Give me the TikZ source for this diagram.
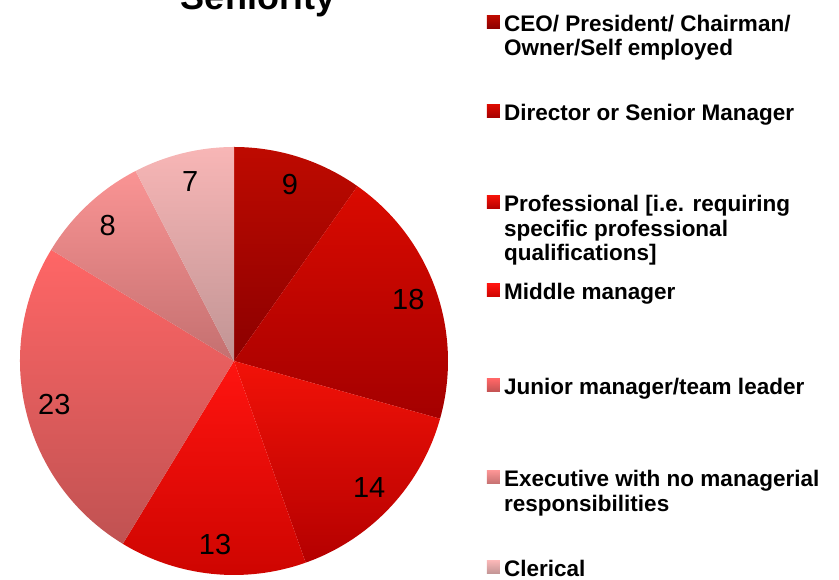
\documentclass[tikz,border=0pt]{standalone}
\usepackage{fontspec}
\setmainfont{Liberation Sans}
\usepackage{xcolor}
\usetikzlibrary{positioning}

\definecolor{ceoTop}{HTML}{BE0A00}
\definecolor{ceoBot}{HTML}{8C0000}
\definecolor{dirTop}{HTML}{DA0A00}
\definecolor{dirBot}{HTML}{A40000}
\definecolor{proTop}{HTML}{F21208}
\definecolor{proBot}{HTML}{B40000}
\definecolor{midTop}{HTML}{FF1410}
\definecolor{midBot}{HTML}{CC0400}
\definecolor{junTop}{HTML}{FF6666}
\definecolor{junBot}{HTML}{C05252}
\definecolor{exeTop}{HTML}{FA9494}
\definecolor{exeBot}{HTML}{C47070}
\definecolor{cleTop}{HTML}{F8B6B6}
\definecolor{cleBot}{HTML}{C09494}

\begin{document}
\begin{tikzpicture}[x=1pt, y=1pt]
        \tikzstyle{count} = [inner sep=0pt, font=\fontsize{29}{29}\selectfont]
        \tikzstyle{key} = [rectangle, minimum size=13pt, inner sep=0pt]
        \tikzstyle{entry} = [anchor=base west, align=left, inner sep=0pt,
            font=\fontsize{22.5}{24.5}\selectfont\bfseries]

        \useasboundingbox (0,0) rectangle (839,580);
        \node [anchor=base, font=\fontsize{36}{36}\selectfont\bfseries] (title) at (258,570) {Seniority};

        % pie, clockwise from the top
        \coordinate (c) at (234,219);
        \foreach \from/\to/\tc/\bc/\val/\nm in {90/54.783/ceoTop/ceoBot/9/nceo,
            54.783/-15.652/dirTop/dirBot/18/ndir,
            -15.652/-70.435/proTop/proBot/14/npro,
            -70.435/-121.304/midTop/midBot/13/nmid,
            -121.304/-211.304/junTop/junBot/23/njun,
            -211.304/-242.609/exeTop/exeBot/8/nexe,
            -242.609/-270/cleTop/cleBot/7/ncle}
        {
            \shade [top color=\tc, bottom color=\bc] (c) -- ++(\from:214)
                arc [start angle=\from, end angle=\to, radius=214] -- cycle;
            \path (c) ++({(\from+\to)/2}:185) node [count] (\nm) {\val};
        }

        % legend (base = last line)
        \node [entry] (ceo) at (504,524) {CEO/ President/ Chairman/\\Owner/Self employed};
        \node [entry] (dir) at (504,459) {Director or Senior Manager};
        \node [entry] (pro) at (504,319) {Professional [i.e. requiring\\specific professional\\qualifications]};
        \node [entry] (mid) at (504,280) {Middle manager};
        \node [entry] (jun) at (504,185) {Junior manager/team leader};
        \node [entry] (exe) at (504,68.5) {Executive with no managerial\\responsibilities};
        \node [entry] (cle) at (504,3) {Clerical};

        \node [key, top color=ceoTop, bottom color=ceoBot, left=4pt of ceo.base west, yshift=34pt] (kceo) {};
        \node [key, top color=dirTop, bottom color=dirBot, left=4pt of dir.base west, yshift=9.5pt] (kdir) {};
        \node [key, top color=proTop, bottom color=proBot, left=4pt of pro.base west, yshift=58.5pt] (kpro) {};
        \node [key, top color=midTop, bottom color=midBot, left=4pt of mid.base west, yshift=9.5pt] (kmid) {};
        \node [key, top color=junTop, bottom color=junBot, left=4pt of jun.base west, yshift=9.5pt] (kjun) {};
        \node [key, top color=exeTop, bottom color=exeBot, left=4pt of exe.base west, yshift=34pt] (kexe) {};
        \node [key, top color=cleTop, bottom color=cleBot, left=4pt of cle.base west, yshift=9.5pt] (kcle) {};
\end{tikzpicture}
\end{document}
